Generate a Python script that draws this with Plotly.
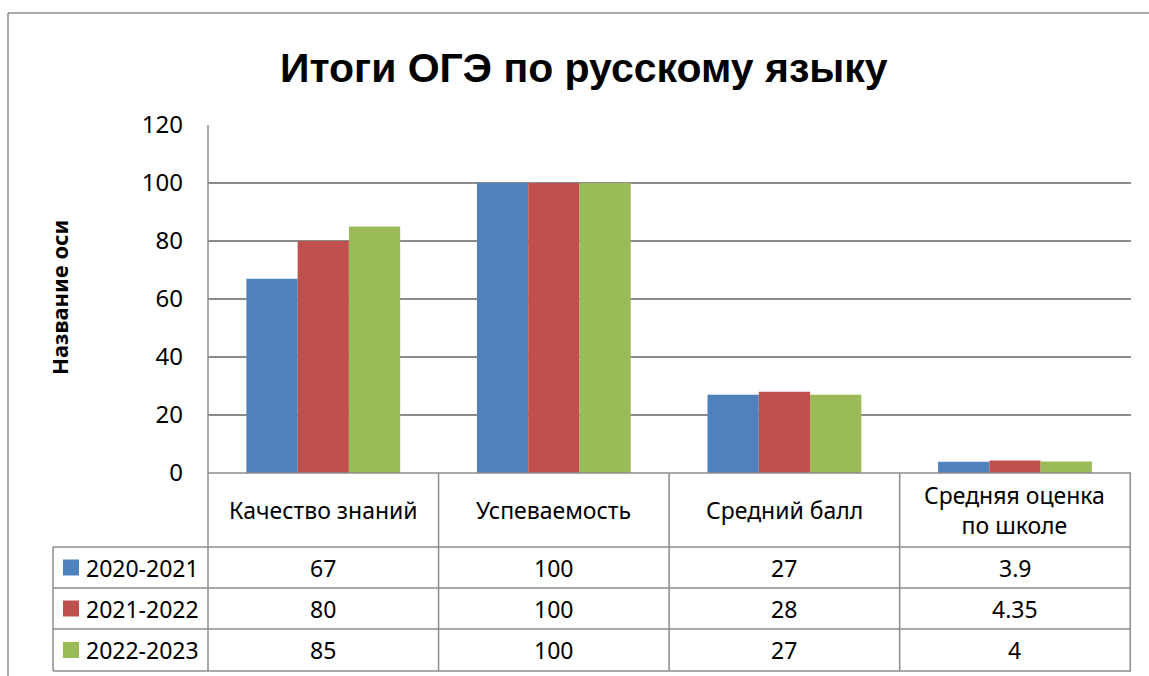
import plotly.graph_objects as go

categories = ["Качество знаний", "Успеваемость", "Средний балл", "Средняя оценка<br>по школе"]
series_names = ["2020-2021", "2021-2022", "2022-2023"]
values_2020 = [67, 100, 27, 3.9]
values_2021 = [80, 100, 28, 4.35]
values_2022 = [85, 100, 27, 4]
colors = ["#4F81BD", "#C0504D", "#9BBB59"]
y_ticks = [0, 20, 40, 60, 80, 100, 120]

W, H = 1149, 676
def px(x):
    return x / W
def py(y):
    return (H - y) / H

all_series = [values_2020, values_2021, values_2022]
FONT = "Noto Sans"
GRID = "#8C8C8C"
FS = 23

fig = go.Figure()
for name, vals, c in zip(series_names, all_series, colors):
    fig.add_trace(go.Bar(x=categories, y=vals, name=name, marker_color=c,
                         marker_line_width=0, showlegend=False))

plot_top, plot_bot = 125, 473
row_lines = [547, 588, 629, 671]

shapes = []
shapes.append(dict(type="line", xref="paper", yref="paper", x0=px(8), x1=px(8), y0=py(13), y1=py(700),
                   line=dict(color="#8C8C8C", width=1.5)))
shapes.append(dict(type="line", xref="paper", yref="paper", x0=px(8), x1=px(1160), y0=py(13), y1=py(13),
                   line=dict(color="#8C8C8C", width=1.5)))
for yl in row_lines:
    shapes.append(dict(type="line", xref="paper", yref="paper", x0=px(53), x1=px(1131), y0=py(yl), y1=py(yl),
                       line=dict(color=GRID, width=1.5)))
shapes.append(dict(type="line", xref="paper", yref="paper", x0=px(208), x1=px(1131), y0=py(plot_bot), y1=py(plot_bot),
                   line=dict(color=GRID, width=1.5)))
shapes.append(dict(type="line", xref="paper", yref="paper", x0=px(53), x1=px(53), y0=py(547), y1=py(671),
                   line=dict(color=GRID, width=1.5)))
shapes.append(dict(type="line", xref="paper", yref="paper", x0=px(208), x1=px(208), y0=py(plot_top), y1=py(671),
                   line=dict(color=GRID, width=1.5)))
for k in range(1, len(categories) + 1):
    shapes.append(dict(type="line", xref="x", yref="paper", x0=k - 0.5, x1=k - 0.5, y0=py(plot_bot), y1=py(671),
                       line=dict(color=GRID, width=1.5)))

annotations = []
for cat in categories:
    annotations.append(dict(x=cat, xref="x", y=py(510), yref="paper", text=cat, showarrow=False,
                            font=dict(family=FONT, size=FS, color="#000"), xanchor="center", yanchor="middle"))
row_centers = [567.5, 608.5, 650]
for r, (name, vals, c) in enumerate(zip(series_names, all_series, colors)):
    yc = row_centers[r]
    shapes.append(dict(type="rect", xref="paper", yref="paper", x0=px(63), x1=px(79), y0=py(yc - 8), y1=py(yc + 8),
                       fillcolor=c, line=dict(width=0)))
    annotations.append(dict(x=px(84), xref="paper", y=py(yc), yref="paper", text=name, showarrow=False,
                            font=dict(family=FONT, size=FS, color="#000"), xanchor="left", yanchor="middle"))
    for cat, v in zip(categories, vals):
        annotations.append(dict(x=cat, xref="x", y=py(yc), yref="paper", text=f"{v:g}", showarrow=False,
                                font=dict(family=FONT, size=FS, color="#000"), xanchor="center", yanchor="middle"))

annotations.append(dict(x=px(59), xref="paper", y=py(298), yref="paper", text="<b>Название оси</b>",
                        textangle=-90, showarrow=False, font=dict(family=FONT, size=22, color="#000"),
                        xanchor="center", yanchor="middle"))
annotations.append(dict(x=px(584), xref="paper", y=py(68), yref="paper", text="<b>Итоги ОГЭ по русскому языку</b>",
                        showarrow=False, font=dict(family="Liberation Sans", size=41, color="#000"),
                        xanchor="center", yanchor="middle"))

fig.update_layout(
    width=W, height=H, margin=dict(l=0, r=0, t=0, b=0, autoexpand=False),
    paper_bgcolor="white", plot_bgcolor="white",
    barmode="group", bargap=0.333, bargroupgap=0,
    shapes=shapes, annotations=annotations,
    xaxis=dict(domain=[px(208), px(1131)], showticklabels=False, showgrid=False, zeroline=False,
               showline=False, ticks="", automargin=False),
    yaxis=dict(domain=[py(plot_bot), py(plot_top)], range=[0, 120], tickvals=y_ticks,
               showgrid=True, gridcolor=GRID, gridwidth=1.5, zeroline=False, showline=False,
               ticks="", ticklabelstandoff=24, automargin=False,
               tickfont=dict(family=FONT, size=24, color="#000")),
)
fig.write_html(
    "out.html",
    config={"displayModeBar": False},
    post_script="document.body.style.margin='0';document.documentElement.style.overflow='hidden';",
)
